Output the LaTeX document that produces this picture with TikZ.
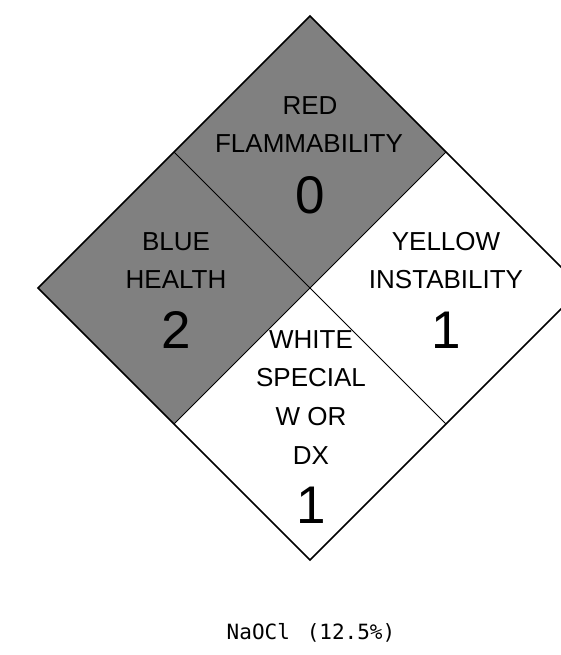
\documentclass[tikz,border=0pt]{standalone}
\usepackage{fontspec}
\setmainfont{Liberation Sans}
\newfontfamily\labelfont{DejaVu Sans Mono}
\definecolor{hazgray}{HTML}{808080}
\begin{document}
\begin{tikzpicture}[x=1pt,y=-1pt,
  outer/.style={draw=black,line width=1.6pt,line join=miter},
  inner/.style={draw=black,line width=1pt},
  word/.style={anchor=base,inner sep=0pt,font=\fontsize{26}{30}\selectfont},
  num/.style={anchor=base,inner sep=0pt,font=\fontsize{53}{60}\selectfont},
  bottomlabel/.style={anchor=base,inner sep=0pt,font=\labelfont\fontsize{21}{24}\selectfont}]
\useasboundingbox (0,0) rectangle (561,655);
\clip (0,0) rectangle (561,655);
\coordinate (T) at (310,16);
\coordinate (L) at (38,288);
\coordinate (B) at (310,560);
\coordinate (R) at (582,288);
\coordinate (C) at (310,288);
\coordinate (TL) at (174,152);
\coordinate (TR) at (446,152);
\coordinate (BL) at (174,424);
\coordinate (BR) at (446,424);
% quadrants
\fill[hazgray] (T) -- (TR) -- (C) -- (TL) -- cycle;
\fill[hazgray] (TL) -- (C) -- (BL) -- (L) -- cycle;
\fill[white] (TR) -- (R) -- (BR) -- (C) -- cycle;
\fill[white] (C) -- (BR) -- (B) -- (BL) -- cycle;
\draw[inner] (TL) -- (BR);
\draw[inner] (TR) -- (BL);
\draw[outer] (T) -- (R) -- (B) -- (L) -- cycle;
% texts
\node[word] (red) at (310,115) {RED};
\node[word] (flam) at (309,153) {FLAMMABILITY};
\node[num] (n0) at (310,213) {0};
\node[word] (blue) at (176,250) {BLUE};
\node[word] (health) at (176,288) {HEALTH};
\node[num] (n2) at (176,348) {2};
\node[word] (yellow) at (446,250) {YELLOW};
\node[word] (inst) at (446,288) {INSTABILITY};
\node[num] (n1a) at (446,348) {1};
\node[word] (white) at (311,348) {WHITE};
\node[word] (special) at (311,386) {SPECIAL};
\node[word] (wor) at (311,425) {W OR};
\node[word] (dx) at (311,464) {DX};
\node[num] (n1b) at (311,523) {1};
\node[bottomlabel] (label) at (311,639) {NaOCl\hspace{0.8em}(12.5\%)};
\end{tikzpicture}
\end{document}
